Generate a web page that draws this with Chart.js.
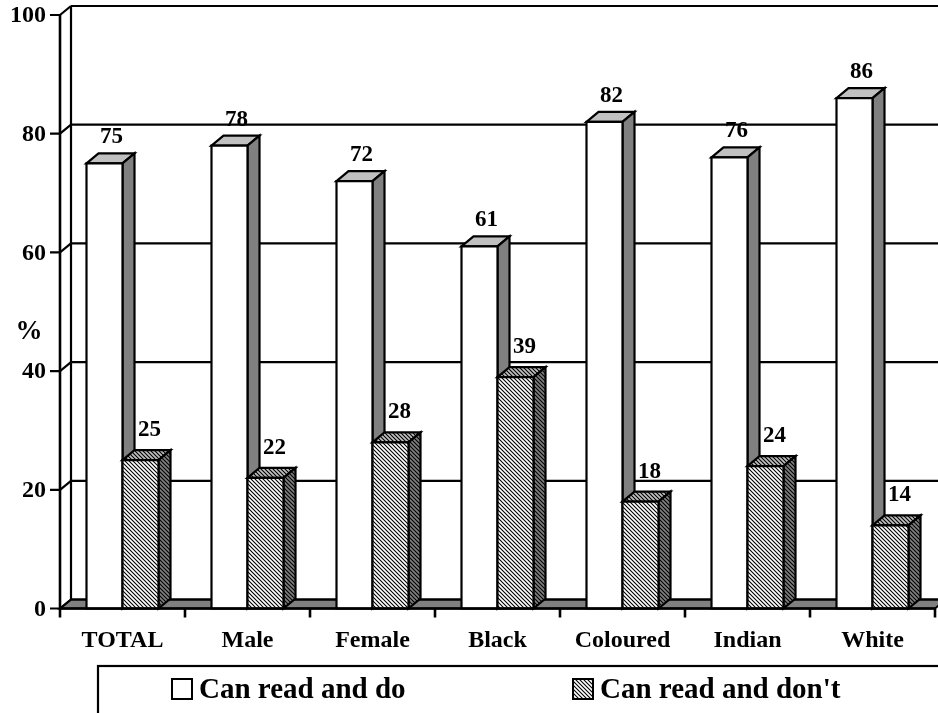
<!DOCTYPE html>
<html>
<head>
<meta charset="utf-8">
<script src="https://cdn.jsdelivr.net/npm/chart.js@4/dist/chart.umd.min.js"></script>
<style>
  html, body { margin: 0; padding: 0; background: #fff; overflow: hidden; }
  canvas { display: block; }
</style>
</head>
<body>
<canvas id="chart" width="938" height="713"></canvas>
<script>
// Reading habits by group, percent
const categories = ['TOTAL', 'Male', 'Female', 'Black', 'Coloured', 'Indian', 'White'];
const canReadAndDo = [75, 78, 72, 61, 82, 76, 86];
const canReadAndDont = [25, 22, 28, 39, 18, 24, 14];
const valueTicks = [0, 20, 40, 60, 80, 100];
const seriesNames = ['Can read and do', "Can read and don't"];
const axisTitle = '%';

const FONT = '"Liberation Serif", "Times New Roman", serif';
const WALL = { dx: 11, dy: -9 };   // depth of walls / floor
const BOX = { dx: 12, dy: -10 };   // depth of each bar

const canvas = document.getElementById('chart');
const ctx = canvas.getContext('2d');

function hatch(bg) {
  const c = document.createElement('canvas');
  c.width = c.height = 4;
  const g = c.getContext('2d');
  g.fillStyle = bg;
  g.fillRect(0, 0, 4, 4);
  g.strokeStyle = '#000';
  g.lineWidth = 1.1;
  g.beginPath();
  g.moveTo(-1, -1); g.lineTo(5, 5);
  g.moveTo(-1, 3); g.lineTo(1, 5);
  g.moveTo(3, -1); g.lineTo(5, 1);
  g.stroke();
  return ctx.createPattern(c, 'repeat');
}

const faces = [
  { front: '#ffffff', top: '#c0c0c0', side: '#808080' },
  { front: hatch('#ffffff'), top: hatch('#c0c0c0'), side: hatch('#808080') }
];

function poly(c, pts, fill) {
  c.beginPath();
  c.moveTo(pts[0][0], pts[0][1]);
  for (let i = 1; i < pts.length; i++) c.lineTo(pts[i][0], pts[i][1]);
  c.closePath();
  if (fill) { c.fillStyle = fill; c.fill(); }
  c.stroke();
}

const scenePlugin = {
  id: 'scene3d',
  beforeDatasetsDraw(chart) {
    const c = chart.ctx;
    const area = chart.chartArea;
    const y = chart.scales.y;
    const W = chart.width;
    const y0 = y.getPixelForValue(0);
    const yTop = y.getPixelForValue(100);
    c.save();
    c.lineJoin = 'miter';
    c.strokeStyle = '#000';

    // floor
    c.lineWidth = 2;
    poly(c, [
      [area.left, y0], [area.left + WALL.dx, y0 + WALL.dy],
      [area.right + WALL.dx, y0 + WALL.dy], [area.right, y0]
    ], '#808080');

    // back wall grid + side wall diagonals
    c.lineWidth = 2.2;
    valueTicks.forEach(v => {
      const py = y.getPixelForValue(v);
      c.beginPath();
      c.moveTo(area.left + WALL.dx, py + WALL.dy);
      c.lineTo(W + 5, py + WALL.dy);
      c.moveTo(area.left - 10, py);
      c.lineTo(area.left, py);
      c.lineTo(area.left + WALL.dx, py + WALL.dy);
      c.stroke();
    });
    // back wall left edge
    c.beginPath();
    c.moveTo(area.left + WALL.dx, yTop + WALL.dy);
    c.lineTo(area.left + WALL.dx, y0 + WALL.dy);
    c.stroke();
    // front value axis
    c.lineWidth = 2.6;
    c.beginPath();
    c.moveTo(area.left, yTop);
    c.lineTo(area.left, y0);
    c.stroke();

    // value tick labels
    c.fillStyle = '#000';
    c.font = 'bold 24px ' + FONT;
    c.textAlign = 'right';
    c.textBaseline = 'middle';
    valueTicks.forEach(v => {
      c.fillText(String(v), area.left - 14, y.getPixelForValue(v) + 1);
    });
    // axis title
    c.font = 'bold 27px ' + FONT;
    c.textAlign = 'center';
    c.fillText(axisTitle, 29, y.getPixelForValue(46.5));
    c.restore();
  },
  afterDatasetsDraw(chart) {
    const c = chart.ctx;
    const area = chart.chartArea;
    const x = chart.scales.x;
    const y = chart.scales.y;
    const y0 = y.getPixelForValue(0);
    const metas = [chart.getDatasetMeta(0), chart.getDatasetMeta(1)];
    c.save();
    c.strokeStyle = '#000';
    c.lineWidth = 2.2;
    c.lineJoin = 'miter';

    categories.forEach((_, i) => {
      metas.forEach((meta, d) => {
        const bar = meta.data[i];
        const x0 = bar.x - bar.width / 2;
        const x1 = bar.x + bar.width / 2;
        const yt = bar.y;
        const f = faces[d];
        poly(c, [[x0, yt], [x0 + BOX.dx, yt + BOX.dy], [x1 + BOX.dx, yt + BOX.dy], [x1, yt]], f.top);
        poly(c, [[x1, yt], [x1 + BOX.dx, yt + BOX.dy], [x1 + BOX.dx, y0 + BOX.dy], [x1, y0]], f.side);
        poly(c, [[x0, yt], [x1, yt], [x1, y0], [x0, y0]], f.front);
      });
    });

    // value labels
    c.fillStyle = '#000';
    c.font = 'bold 23px ' + FONT;
    c.textAlign = 'center';
    c.textBaseline = 'middle';
    metas.forEach((meta, d) => {
      const values = chart.data.datasets[d].data;
      meta.data.forEach((bar, i) => {
        const off = d === 0 ? -26 : -30;
        c.fillText(String(values[i]), bar.x + (d === 0 ? 7 : 9), bar.y + off);
      });
    });

    // category axis
    c.lineWidth = 2.6;
    c.beginPath();
    c.moveTo(area.left, y0);
    c.lineTo(area.right, y0);
    const step = x.getPixelForValue(1) - x.getPixelForValue(0);
    for (let i = 0; i <= categories.length; i++) {
      const px = x.getPixelForValue(0) - step / 2 + i * step;
      c.moveTo(px, y0);
      c.lineTo(px, y0 + 9);
    }
    c.stroke();

    c.font = 'bold 24px ' + FONT;
    categories.forEach((name, i) => {
      c.fillText(name, x.getPixelForValue(i), y0 + 32);
    });

    // legend
    c.lineWidth = 2.2;
    c.strokeRect(98, 666, 900, 100);
    const items = [
      { x: 172, fill: faces[0].front },
      { x: 573, fill: faces[1].front }
    ];
    c.font = 'bold 29px ' + FONT;
    c.textAlign = 'left';
    items.forEach((it, k) => {
      c.lineWidth = 2;
      c.fillStyle = it.fill;
      c.fillRect(it.x, 679, 20, 20);
      c.strokeRect(it.x, 679, 20, 20);
      c.fillStyle = '#000';
      c.fillText(seriesNames[k], it.x + 27, 691);
    });
    c.restore();
  }
};

new Chart(ctx, {
  type: 'bar',
  data: {
    labels: categories,
    datasets: [
      { label: seriesNames[0], data: canReadAndDo, backgroundColor: 'rgba(0,0,0,0)', borderWidth: 0 },
      { label: seriesNames[1], data: canReadAndDont, backgroundColor: 'rgba(0,0,0,0)', borderWidth: 0 }
    ]
  },
  options: {
    responsive: false,
    animation: false,
    events: [],
    layout: { padding: { left: 60, right: 3, top: 15, bottom: 104.5 } },
    datasets: { bar: { categoryPercentage: 0.576, barPercentage: 1.0 } },
    scales: {
      x: { display: false, offset: true },
      y: { display: false, min: 0, max: 100 }
    },
    plugins: { legend: { display: false }, tooltip: { enabled: false } }
  },
  plugins: [scenePlugin]
});
</script>
</body>
</html>
